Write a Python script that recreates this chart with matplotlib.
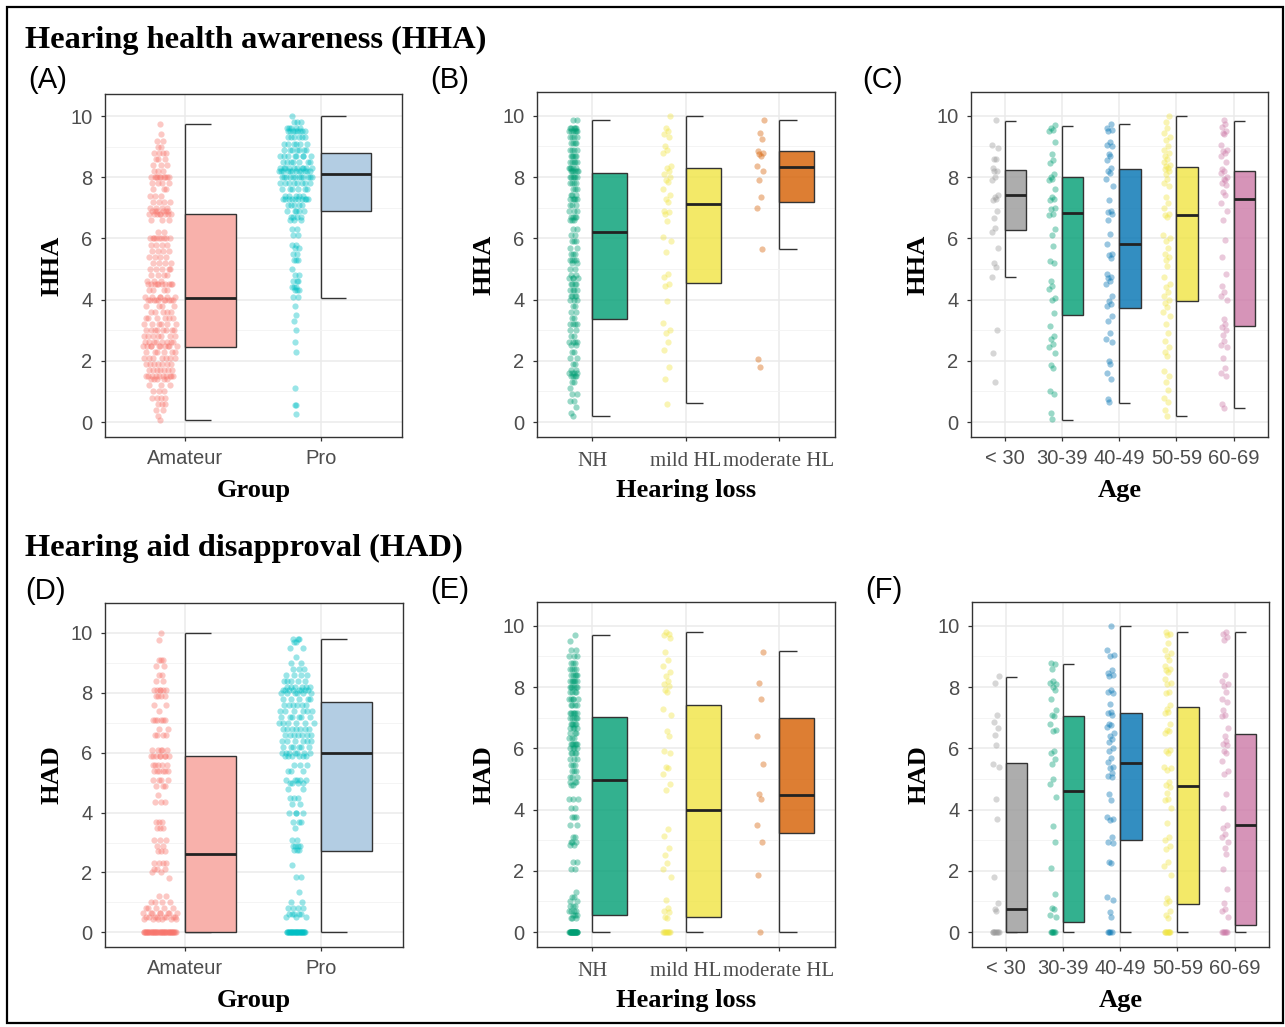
import numpy as np
import matplotlib
matplotlib.use("Agg")
import matplotlib.pyplot as plt
from matplotlib.colors import to_rgba
from matplotlib.patches import Rectangle

W, H = 1285, 1027

# ---- data: HHA / HAD scores ----
groups = ["Amateur", "Pro"]
hl_levels = ["NH", "mild HL", "moderate HL"]
age_levels = ["< 30", "30-39", "40-49", "50-59", "60-69"]

# (A) HHA by group, value + count
hha_amateur_vals = [9.75, 9.4, 9.2, 9.0, 8.8, 8.6, 8.4, 8.2, 8.0, 7.8, 7.6, 7.4, 7.2, 7.0, 6.9, 6.8, 6.6,
                    6.2, 6.0, 5.8, 5.6, 5.4, 5.2, 5.0, 4.8, 4.6, 4.5, 4.3, 4.1, 4.0, 3.8, 3.6, 3.4, 3.2,
                    3.0, 2.8, 2.6, 2.5, 2.3, 2.1, 1.9, 1.7, 1.5, 1.4, 1.2, 1.0, 0.8, 0.6, 0.4, 0.2, 0.05]
hha_amateur_counts = [1, 1, 2, 2, 4, 3, 3, 3, 10, 4, 3, 3, 4, 4, 6, 8, 3, 2, 9, 4, 4, 4, 4, 5, 4, 3,
                      10, 4, 6, 10, 4, 5, 6, 6, 8, 7, 8, 10, 6, 7, 7, 7, 10, 5, 3, 3, 4, 3, 2, 1, 1]
hha_pro_vals = [10.0, 9.8, 9.6, 9.5, 9.3, 9.1, 8.9, 8.7, 8.5, 8.3, 8.2, 8.0, 7.8, 7.6, 7.4, 7.3, 7.1,
                6.9, 6.7, 6.6, 6.3, 6.1, 5.8, 5.7, 5.5, 5.3, 5.0, 4.8, 4.6, 4.4, 4.3, 4.1, 3.8, 3.5,
                3.3, 3.0, 2.6, 2.3, 1.1, 0.55, 0.25]
hha_pro_counts = [1, 3, 5, 8, 6, 6, 7, 8, 7, 10, 12, 12, 8, 6, 5, 10, 5, 5, 4, 3, 2, 2, 2, 2, 2, 3,
                  1, 2, 3, 3, 3, 2, 1, 1, 1, 1, 1, 1, 1, 2, 1]

# (D) HAD by group
had_amateur_vals = [10.0, 9.75, 9.1, 8.9, 8.6, 8.4, 8.1, 7.9, 7.6, 7.4, 7.1, 6.8, 6.6, 6.1, 5.9, 5.6,
                    5.4, 5.1, 4.9, 4.6, 4.35, 3.7, 3.5, 3.1, 2.9, 2.7, 2.3, 2.1, 2.0, 1.8, 1.2, 1.0,
                    0.8, 0.65, 0.5, 0.45, 0.0]
had_amateur_counts = [1, 1, 3, 2, 2, 2, 6, 4, 2, 1, 6, 2, 4, 5, 8, 5, 6, 4, 3, 1, 3, 3, 3, 3, 2, 3,
                      4, 3, 2, 1, 2, 4, 5, 8, 8, 6, 45]
had_pro_vals = [9.8, 9.7, 9.5, 9.2, 9.0, 8.8, 8.6, 8.4, 8.2, 8.1, 8.0, 7.8, 7.6, 7.4, 7.2, 7.0, 6.8,
                6.6, 6.4, 6.2, 6.0, 5.9, 5.6, 5.4, 5.1, 5.0, 4.8, 4.5, 4.3, 4.0, 3.7, 3.5, 3.1, 2.9,
                2.75, 2.25, 1.85, 1.35, 1.0, 0.8, 0.6, 0.5, 0.0]
had_pro_counts = [3, 2, 2, 1, 2, 3, 4, 5, 6, 8, 6, 5, 6, 6, 6, 6, 7, 7, 6, 6, 7, 6, 3, 3, 5, 4, 2,
                  3, 2, 4, 3, 1, 2, 4, 3, 1, 2, 1, 2, 4, 5, 3, 30]

# (B) HHA by hearing loss
hha_nh_vals = [9.85, 9.6, 9.5, 9.3, 9.1, 8.9, 8.7, 8.5, 8.3, 8.2, 8.0, 7.8, 7.6, 7.4, 7.3, 7.1, 6.9,
               6.7, 6.6, 6.3, 6.1, 5.9, 5.7, 5.5, 5.3, 5.2, 5.0, 4.8, 4.7, 4.5, 4.3, 4.1, 4.0, 3.8,
               3.6, 3.4, 3.2, 3.0, 2.8, 2.6, 2.5, 2.3, 2.1, 1.9, 1.7, 1.6, 1.5, 1.3, 1.1, 0.9, 0.7,
               0.5, 0.3, 0.2]
hha_nh_counts = [2, 5, 6, 4, 4, 4, 5, 5, 5, 6, 6, 4, 3, 3, 5, 3, 3, 4, 3, 2, 2, 3, 2, 3, 4, 2, 2, 2,
                 4, 4, 4, 4, 3, 2, 2, 2, 4, 2, 2, 4, 2, 2, 2, 2, 2, 4, 4, 2, 1, 2, 2, 1, 1, 1]
hha_mild = [10.0, 9.6, 9.5, 9.4, 9.3, 9.0, 8.9, 8.8, 8.35, 8.3, 8.2, 8.1, 8.0, 7.9, 7.85, 7.6, 7.4,
            7.3, 7.2, 6.9, 6.85, 6.8, 6.55, 6.05, 5.9, 5.55, 4.85, 4.75, 4.5, 4.45, 3.95, 3.25, 3.0,
            2.9, 2.6, 2.35, 1.8, 1.4, 0.6]
hha_moderate = [9.85, 9.45, 9.25, 8.85, 8.8, 8.75, 8.7, 8.35, 8.2, 7.9, 7.35, 7.0, 5.65, 2.05, 1.8]

# (E) HAD by hearing loss
had_nh_vals = [9.7, 9.5, 9.2, 9.0, 8.8, 8.6, 8.4, 8.2, 8.0, 7.85, 7.6, 7.4, 7.15, 7.0, 6.8, 6.65,
               6.5, 6.35, 6.15, 6.0, 5.85, 5.65, 5.45, 5.25, 5.05, 4.9, 4.8, 4.35, 4.05, 3.75, 3.5,
               3.1, 2.95, 2.85, 2.3, 2.05, 1.3, 1.15, 1.0, 0.85, 0.7, 0.55, 0.45, 0.0]
had_nh_counts = [1, 1, 2, 3, 3, 4, 5, 6, 6, 4, 5, 4, 6, 5, 5, 4, 3, 3, 6, 4, 4, 3, 3, 3, 3, 3, 2, 3,
                 2, 3, 2, 2, 3, 2, 2, 2, 1, 2, 2, 3, 4, 3, 3, 25]
had_mild = [9.8, 9.75, 9.7, 9.6, 9.15, 8.9, 8.7, 8.5, 8.35, 8.2, 8.1, 8.05, 7.9, 7.85, 7.3, 7.1,
            6.55, 6.4, 5.9, 5.85, 5.4, 5.35, 5.15, 4.85, 4.65, 3.35, 3.15, 2.75, 2.5, 2.25, 2.05,
            1.8, 1.05, 0.8, 0.7, 0.65, 0.5, 0.45, 0, 0, 0, 0, 0, 0, 0, 0]
had_moderate = [9.15, 8.15, 7.6, 6.4, 5.5, 4.5, 4.35, 3.5, 2.95, 1.85, 0.0]

# (C) HHA by age
hha_u30 = [9.85, 9.05, 8.95, 8.6, 8.6, 8.3, 8.2, 8.2, 8.0, 7.9, 7.4, 7.35, 7.3, 7.25, 6.9, 6.65,
           6.35, 6.2, 5.7, 5.2, 5.05, 4.75, 3.0, 2.25, 1.3]
hha_30s = [9.7, 9.6, 9.55, 9.5, 9.15, 8.75, 8.55, 8.45, 8.1, 8.0, 7.95, 7.9, 7.6, 7.35, 7.3, 7.25,
           7.0, 6.95, 6.8, 6.75, 6.3, 6.1, 5.75, 5.25, 5.2, 4.6, 4.45, 4.35, 4.05, 4.0, 3.55, 3.15,
           2.8, 2.7, 2.55, 2.45, 2.25, 1.85, 1.75, 1.0, 0.9, 0.3, 0.1]
hha_40s = [9.75, 9.6, 9.55, 9.5, 9.15, 9.05, 9.0, 8.75, 8.7, 8.55, 8.3, 8.2, 8.15, 7.95, 7.7, 7.25,
           6.9, 6.85, 6.8, 6.6, 6.15, 5.8, 5.5, 5.45, 5.35, 4.85, 4.75, 4.7, 4.6, 4.5, 4.1, 3.95,
           3.85, 3.8, 3.45, 3.3, 2.9, 2.7, 2.6, 2.0, 1.9, 1.6, 1.4, 0.75, 0.65]
hha_50s = [10.0, 9.8, 9.6, 9.45, 9.3, 9.2, 9.0, 8.9, 8.8, 8.7, 8.6, 8.5, 8.4, 8.35, 8.3, 8.25, 8.2,
           8.1, 7.95, 7.8, 7.7, 7.35, 7.15, 7.0, 6.8, 6.75, 6.7, 6.1, 6.0, 5.9, 5.7, 5.5, 5.4, 5.3,
           5.1, 4.75, 4.5, 4.4, 4.25, 4.1, 4.0, 3.9, 3.75, 3.6, 3.45, 3.2, 2.9, 2.65, 2.45, 2.3,
           2.15, 1.65, 1.5, 1.3, 1.05, 0.8, 0.65, 0.4, 0.2]
hha_60s = [9.85, 9.75, 9.65, 9.5, 9.45, 9.4, 9.05, 8.9, 8.85, 8.8, 8.7, 8.5, 8.25, 8.2, 8.15, 8.0,
           7.95, 7.9, 7.8, 7.75, 7.5, 7.4, 7.15, 6.9, 6.6, 5.95, 5.4, 4.85, 4.45, 4.25, 4.1, 4.0,
           3.35, 3.2, 3.1, 3.0, 2.85, 2.65, 2.5, 2.45, 2.1, 1.75, 1.6, 1.5, 0.6, 0.45]

# (F) HAD by age
had_u30 = [8.35, 8.15, 7.1, 6.85, 6.65, 6.45, 6.1, 5.5, 5.4, 4.35, 3.7, 1.8, 0.95, 0.75, 0.7,
           0, 0, 0, 0, 0, 0, 0, 0]
had_30s = [8.8, 8.75, 8.6, 8.2, 8.15, 8.1, 8.0, 7.9, 7.6, 7.25, 7.1, 7.05, 6.8, 6.6, 6.55, 5.9, 5.85,
           5.65, 5.5, 5.0, 4.85, 4.4, 3.45, 2.95, 2.1, 1.25, 0.8, 0.75, 0.55, 0.5, 0, 0, 0, 0, 0, 0]
had_40s = [10.0, 9.2, 9.05, 9.0, 8.55, 8.45, 8.4, 8.35, 7.9, 7.85, 7.8, 7.45, 7.2, 7.15, 7.1, 6.8,
           6.75, 6.7, 6.5, 6.4, 6.3, 6.2, 6.0, 5.9, 5.7, 5.55, 5.4, 5.35, 5.2, 5.1, 5.05, 4.5, 4.3,
           3.75, 3.7, 3.65, 3.1, 2.95, 2.9, 2.3, 2.25, 1.15, 1.05, 0.65, 0.5, 0, 0, 0, 0]
had_50s = [9.8, 9.75, 9.7, 9.45, 9.2, 9.1, 9.0, 8.9, 8.7, 8.6, 8.55, 8.5, 8.25, 8.15, 8.1, 7.85, 7.8,
           7.4, 7.3, 7.2, 7.15, 6.8, 6.6, 6.55, 6.5, 5.95, 5.9, 5.85, 5.4, 5.35, 5.3, 4.9, 4.8, 4.75,
           4.55, 4.35, 4.3, 4.05, 3.55, 3.1, 3.0, 2.8, 2.7, 2.3, 2.15, 1.85, 1.1, 1.0, 0.95, 0.7,
           0.55, 0.45, 0, 0, 0, 0, 0, 0, 0, 0]
had_60s = [9.8, 9.75, 9.65, 9.55, 8.4, 8.2, 8.1, 8.05, 7.85, 7.6, 7.5, 7.25, 7.1, 7.05, 6.65, 6.4,
           6.25, 6.15, 6.1, 5.9, 5.85, 5.6, 5.25, 5.15, 4.5, 4.05, 3.5, 3.4, 3.2, 3.1, 2.95, 2.75,
           2.55, 2.05, 1.4, 0.95, 0.75, 0.7, 0.5, 0, 0, 0, 0, 0, 0]

# box statistics as drawn: [lower whisker, Q1, median, Q3, upper whisker]
box_hha_group = [[0.05, 2.45, 4.05, 6.8, 9.75], [4.05, 6.9, 8.1, 8.8, 10.0]]
box_had_group = [[0.0, 0.0, 2.6, 5.88, 10.0], [0.0, 2.73, 6.0, 7.7, 9.8]]
box_hha_hl = [[0.2, 3.36, 6.2, 8.15, 9.85], [0.62, 4.55, 7.12, 8.3, 10.0], [5.65, 7.18, 8.34, 8.86, 9.85]]
box_had_hl = [[0.0, 0.57, 4.98, 7.03, 9.7], [0.0, 0.49, 4.0, 7.43, 9.79], [0.0, 3.22, 4.48, 7.0, 9.17]]
box_hha_age = [[4.75, 6.27, 7.4, 8.22, 9.84], [0.07, 3.48, 6.82, 8.0, 9.67], [0.62, 3.73, 5.8, 8.26, 9.72],
               [0.18, 3.96, 6.77, 8.34, 10.0], [0.45, 3.15, 7.27, 8.2, 9.84]]
box_had_age = [[0.0, 0.0, 0.75, 5.53, 8.34], [0.0, 0.34, 4.62, 7.07, 8.77], [0.0, 3.0, 5.53, 7.15, 10.0],
               [0.0, 0.91, 4.78, 7.34, 9.79], [0.0, 0.22, 3.5, 6.48, 9.79]]

group_point_colors = ["#F8766D", "#00BFC4"]
group_box_colors = ["#F8B1AB", "#B3CDE3"]
hl_colors = ["#009E73", "#F0E442", "#D55E00"]
age_colors = ["#999999", "#009E73", "#0072B2", "#F0E442", "#CC79A7"]

SANS = "Liberation Sans"
SERIF = "Liberation Serif"


def vdc(n):
    v, d = 0.0, 1.0
    while n:
        d *= 2
        n, r = divmod(n, 2)
        v += r / d
    return v


def quasi(y, width, density=True):
    # deterministic quasirandom horizontal spread (like ggbeeswarm)
    y = np.asarray(y, float)
    n = len(y)
    if density:
        sd = y.std(ddof=1)
        q75, q25 = np.percentile(y, [75, 25])
        s = min(sd, (q75 - q25) / 1.34) if q75 > q25 else sd
        bw = 0.9 * s * n ** -0.2
        d = np.exp(-0.5 * ((y[:, None] - y[None, :]) / bw) ** 2).sum(1)
        d = d / d.max()
    else:
        d = np.ones(n)
    order = np.argsort(y, kind="stable")
    off = np.zeros(n)
    for r, i in enumerate(order):
        off[i] = (vdc(r + 1) - 0.5) * 2 * width * d[i]
    return off


fig = plt.figure(figsize=(W / 100, H / 100), dpi=100)


def px_axes(l, r, t, b):
    return fig.add_axes([l / W, 1 - b / H, (r - l) / W, (b - t) / H])


def panel(box, samples, boxes, pcolors, bcolors, balpha, labels, label_font,
          ylabel, xlabel, ytop, pt_off, spread, dens):
    l, r, t, b = box
    ax = px_axes(l, r, t, b)
    n = len(labels)
    pos = np.arange(1, n + 1)
    ax.set_xlim(0.41, n + 0.6)
    ax.set_ylim(-0.49, ytop)
    ax.set_axisbelow(True)
    ax.set_yticks(range(0, 11, 2))
    ax.set_yticks(range(1, 11, 2), minor=True)
    ax.grid(which="major", color="#ebebeb", lw=1.1)
    ax.grid(which="minor", axis="y", color="#f3f3f3", lw=0.6)
    for s in ax.spines.values():
        s.set_color("#333333")
        s.set_linewidth(1.0)
    ax.tick_params(which="major", length=3, width=0.9, color="#333333",
                   labelcolor="#4d4d4d", labelsize=14.5)
    ax.tick_params(axis="y", pad=6)
    ax.tick_params(axis="x", pad=8 if label_font == SERIF else 6)
    ax.tick_params(which="minor", length=0)
    ax.set_xticks(pos)
    ax.set_xticklabels(labels, fontfamily=label_font,
                       fontsize=15 if label_font == SERIF else 14.5)
    for lab in ax.get_yticklabels():
        lab.set_fontfamily(SANS)

    for i, p in enumerate(pos):
        y = np.asarray(samples[i], float)
        x = p + pt_off + quasi(y, spread, dens)
        ax.scatter(x, y, s=20, color=pcolors[i], alpha=0.4, linewidths=0, zorder=3)
        wlo, q1, med, q3, whi = boxes[i]
        ax.vlines(p, wlo, whi, color="#333333", lw=1.0, zorder=2)
        ax.hlines([wlo, whi], p, p + 0.19, color="#333333", lw=1.0, zorder=2)
        ax.bar(p, q3 - q1, bottom=q1, width=0.375, align="edge",
               facecolor=to_rgba(bcolors[i], balpha), edgecolor="#333333",
               linewidth=1.0, zorder=4)
        ax.hlines(med, p, p + 0.375, color="#222222", lw=2.0, zorder=5)

    fig.text((l - 53) / W, 1 - (t + b) / 2 / H, ylabel, rotation=90, ha="center",
             va="center", fontfamily=SERIF, fontweight="bold", fontsize=19)
    fig.text((l + r) / 2 / W, 1 - (b + 53) / H, xlabel, ha="center", va="center",
             fontfamily=SERIF, fontweight="bold", fontsize=19)
    return ax


rep = np.repeat

# top row: HHA
panel((105, 402, 94, 437),
      [rep(hha_amateur_vals, hha_amateur_counts), rep(hha_pro_vals, hha_pro_counts)],
      box_hha_group, group_point_colors, group_box_colors, 1.0, groups, SANS,
      "HHA", "Group", 10.72, -0.185, 0.13, True)
panel((537, 835, 92, 437),
      [rep(hha_nh_vals, hha_nh_counts), hha_mild, hha_moderate],
      box_hha_hl, hl_colors, hl_colors, 0.8, hl_levels, SERIF,
      "HHA", "Hearing loss", 10.78, -0.2, 0.045, False)
panel((971, 1268, 92, 437),
      [hha_u30, hha_30s, hha_40s, hha_50s, hha_60s],
      box_hha_age, age_colors, age_colors, 0.8, age_levels, SANS,
      "HHA", "Age", 10.78, -0.17, 0.06, False)

# bottom row: HAD
panel((105, 403, 603, 947),
      [rep(had_amateur_vals, had_amateur_counts), rep(had_pro_vals, had_pro_counts)],
      box_had_group, group_point_colors, group_box_colors, 1.0, groups, SANS,
      "HAD", "Group", 11.0, -0.185, 0.13, True)
panel((537, 835, 602, 947),
      [rep(had_nh_vals, had_nh_counts), had_mild, had_moderate],
      box_had_hl, hl_colors, hl_colors, 0.8, hl_levels, SERIF,
      "HAD", "Hearing loss", 10.78, -0.2, 0.045, False)
panel((972, 1269, 602, 947),
      [had_u30, had_30s, had_40s, had_50s, had_60s],
      box_had_age, age_colors, age_colors, 0.8, age_levels, SANS,
      "HAD", "Age", 10.78, -0.17, 0.06, False)

# titles and panel tags
fig.text(25 / W, 1 - 48 / H, "Hearing health awareness (HHA)", fontfamily=SERIF,
         fontweight="bold", fontsize=23.3, va="baseline")
fig.text(25 / W, 1 - 556 / H, "Hearing aid disapproval (HAD)", fontfamily=SERIF,
         fontweight="bold", fontsize=23.3, va="baseline")
for tag, x, y in [("(A)", 28, 80), ("(B)", 430, 80), ("(C)", 862, 80),
                  ("(D)", 25, 591), ("(E)", 430, 590), ("(F)", 865, 590)]:
    fig.text(x / W, 1 - y / H, tag, fontfamily=SANS, fontsize=21, va="center")

# outer frame
fig.patches.append(Rectangle((7 / W, 4 / H), 1276 / W, 1016 / H, transform=fig.transFigure,
                             fill=False, edgecolor="black", linewidth=1.6))

fig.savefig("out.png", dpi=100)
